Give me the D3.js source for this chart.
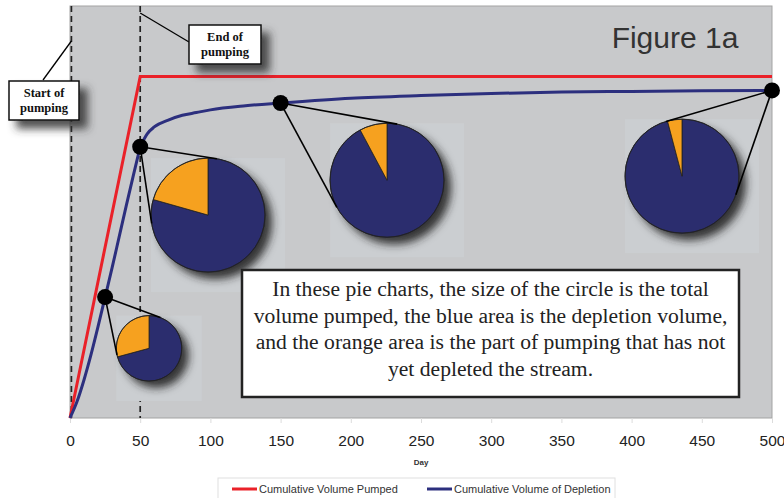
<!DOCTYPE html>
<html>
<head>
<meta charset="utf-8">
<script src="https://cdn.jsdelivr.net/npm/d3@7"></script>
<style>
  html, body { margin: 0; padding: 0; background: #fff; }
  svg { display: block; }
</style>
</head>
<body>
<svg id="chart" width="784" height="498"></svg>
<script>
// ---------------- DATA ----------------
const pumpDays = [0, 50, 500];
const pumpVolume = [0, 50, 50];

const depletionDays = [0, 5, 10, 15, 20, 25, 30, 35, 40, 45, 50, 55, 60, 70, 80, 90, 100, 125, 150, 200, 250, 300, 350, 400, 450, 500];
const depletionVolume = [0, 2.4, 5.6, 9.3, 13.4, 17.7, 22.0, 26.5, 31.0, 35.4, 39.7, 41.6, 42.6, 43.6, 44.3, 44.7, 45.1, 45.7, 46.1, 46.8, 47.2, 47.5, 47.7, 47.8, 47.9, 47.95];

const xTicks = [0, 50, 100, 150, 200, 250, 300, 350, 400, 450, 500];
const pieDays = [25, 50, 150, 500];
// pie centres expressed in chart units [day, volume]
const pieCentreDay = [56.3, 98.3, 225.8, 435.9];
const pieCentreVol = [10.2, 29.7, 34.8, 35.4];

const startDay = 1;
const endDay = 50;
const seriesNames = ["Cumulative Volume Pumped", "Cumulative Volume of Depletion"];
const noteLines = [
  "In these pie charts, the size of the circle is the total",
  "volume pumped, the blue area is the depletion volume,",
  "and the orange area is the part of pumping that has not",
  "yet depleted the stream."
];
const figureTitle = "Figure 1a";
const xTitle = "Day";

// ---------------- LAYOUT ----------------
const plot = { left: 70, top: 6, right: 772, bottom: 418 };
const colors = {
  bg: "#c8c9cb", pieBg: "#cbced1", red: "#ea2129", blue: "#2c2f7e",
  pieBlue: "#2b2d6e", pieOrange: "#f6a11f"
};

const svg = d3.select("#chart");
const x = d3.scaleLinear().domain([0, 500]).range([plot.left, plot.right]);
const y = d3.scaleLinear().domain([0, 60.3]).range([plot.bottom, plot.top]);
const rScale = d3.scalePow().exponent(0.8).domain([0, 50]).range([0, 57]);

const defs = svg.append("defs");
const sh = defs.append("filter").attr("id", "shadow").attr("x", "-30%").attr("y", "-30%").attr("width", "180%").attr("height", "180%");
sh.append("feDropShadow").attr("dx", 7).attr("dy", 7).attr("stdDeviation", 4.5).attr("flood-color", "#222").attr("flood-opacity", 0.9);
const sh2 = defs.append("filter").attr("id", "boxshadow").attr("x", "-30%").attr("y", "-30%").attr("width", "180%").attr("height", "180%");
sh2.append("feDropShadow").attr("dx", 8).attr("dy", 8).attr("stdDeviation", 4).attr("flood-color", "#333").attr("flood-opacity", 0.85);

// plot background
svg.append("rect")
  .attr("x", plot.left).attr("y", plot.top)
  .attr("width", plot.right - plot.left).attr("height", plot.bottom - plot.top)
  .attr("fill", colors.bg).attr("stroke", "#a3a3a3").attr("stroke-width", 1);

// x axis ticks & labels
const axis = d3.axisBottom(x).tickValues(xTicks).tickSize(5).tickPadding(12).tickFormat(d3.format("d"));
const ag = svg.append("g").attr("transform", `translate(0,${plot.bottom})`).call(axis);
ag.select(".domain").remove();
ag.selectAll(".tick line").attr("stroke", "#dcdcdc");
ag.selectAll(".tick text").attr("font-family", "Liberation Sans, Arial, sans-serif").attr("font-size", 15.5).attr("fill", "#222");

svg.append("text").attr("x", (plot.left + plot.right) / 2).attr("y", 465)
  .attr("text-anchor", "middle").attr("font-family", "Liberation Sans, Arial, sans-serif")
  .attr("font-size", 8).attr("font-weight", "bold").attr("fill", "#333").text(xTitle);

// figure title
svg.append("text").attr("x", 675).attr("y", 48).attr("text-anchor", "middle")
  .attr("font-family", "Liberation Sans, Arial, sans-serif").attr("font-size", 30).attr("fill", "#333")
  .text(figureTitle);

// dashed lines
[startDay, endDay].forEach(d => {
  svg.append("line").attr("x1", x(d)).attr("x2", x(d)).attr("y1", plot.top).attr("y2", plot.bottom)
    .attr("stroke", "#222").attr("stroke-width", 1.7).attr("stroke-dasharray", "6,4");
});

const depAt = d => depletionVolume[depletionDays.indexOf(d)];
const pumpAt = d => d3.scaleLinear().domain(pumpDays).range(pumpVolume)(d);
const pieGen = d3.pie().sort(null).value(v => v);

const pieInfo = pieDays.map((d, i) => {
  const total = pumpAt(d);
  const dep = depAt(d);
  return { day: d, total, dep, cx: x(pieCentreDay[i]), cy: y(pieCentreVol[i]), r: rScale(total), mx: x(d), my: y(dep) };
});

pieInfo.forEach(p => {
  svg.append("rect").attr("x", p.cx - p.r).attr("y", p.cy - p.r)
    .attr("width", 2 * p.r + 20).attr("height", 2 * p.r + 20).attr("fill", colors.pieBg);
});

// series lines
const line = d3.line().x(d => x(d[0])).y(d => y(d[1]));
const pumpPts = pumpDays.map((d, i) => [d, pumpVolume[i]]);
svg.append("path").attr("d", line(pumpPts)).attr("fill", "none")
  .attr("stroke", colors.red).attr("stroke-width", 3);

const depPts = depletionDays.map((d, i) => [d, depletionVolume[i]]);
const curved = d3.line().x(d => x(d[0])).y(d => y(d[1])).curve(d3.curveMonotoneX);
svg.append("path").attr("d", curved(depPts.filter(p => p[0] <= endDay))).attr("fill", "none")
  .attr("stroke", colors.blue).attr("stroke-width", 3);
svg.append("path").attr("d", curved(depPts.filter(p => p[0] >= endDay))).attr("fill", "none")
  .attr("stroke", colors.blue).attr("stroke-width", 3);

// pies, leaders, markers
pieInfo.forEach(p => {
  const g = svg.append("g").attr("transform", `translate(${p.cx},${p.cy})`);
  const arc = d3.arc().innerRadius(0).outerRadius(p.r);
  g.append("circle").attr("r", p.r).attr("fill", colors.pieBlue).attr("filter", "url(#shadow)");
  g.selectAll("path").data(pieGen([p.dep, p.total - p.dep])).join("path")
    .attr("d", arc).attr("fill", (d, i) => i === 0 ? colors.pieBlue : colors.pieOrange)
    .attr("stroke", "#222").attr("stroke-width", 0.8);
  g.append("circle").attr("r", p.r).attr("fill", "none").attr("stroke", "#222").attr("stroke-width", 0.8);

  const dx = p.mx - p.cx, dy = p.my - p.cy;
  const dist = Math.hypot(dx, dy);
  const th = Math.atan2(dy, dx);
  const a = Math.acos(Math.min(1, p.r / dist));
  [th + a, th - a].forEach(t => {
    svg.append("line").attr("x1", p.mx).attr("y1", p.my)
      .attr("x2", p.cx + p.r * Math.cos(t)).attr("y2", p.cy + p.r * Math.sin(t))
      .attr("stroke", "#000").attr("stroke-width", 1.6);
  });
  svg.append("circle").attr("cx", p.mx).attr("cy", p.my).attr("r", 8).attr("fill", "#000");
});

// callout boxes
function callout(bx, by, bw, bh, lines, lx1, ly1, lx2, ly2) {
  svg.append("line").attr("x1", lx1).attr("y1", ly1).attr("x2", lx2).attr("y2", ly2)
    .attr("stroke", "#000").attr("stroke-width", 1.3);
  svg.append("rect").attr("x", bx).attr("y", by).attr("width", bw).attr("height", bh)
    .attr("fill", "#fff").attr("stroke", "#111").attr("stroke-width", 1.5).attr("filter", "url(#boxshadow)");
  lines.forEach((t, i) => {
    svg.append("text").attr("x", bx + bw / 2).attr("y", by + 16 + i * 15)
      .attr("text-anchor", "middle").attr("font-family", "Liberation Serif, Times New Roman, serif")
      .attr("font-size", 12.5).attr("font-weight", "bold").attr("fill", "#111").text(t);
  });
}
callout(9, 81, 70, 39, ["Start of", "pumping"], 43, 80, x(startDay), 41);
callout(189, 25, 72, 39, ["End of", "pumping"], x(endDay), 13, 189, 42);

// note box
svg.append("rect").attr("x", 242).attr("y", 270).attr("width", 497).attr("height", 127)
  .attr("fill", "#fff").attr("stroke", "#222").attr("stroke-width", 2.5);
noteLines.forEach((t, i) => {
  svg.append("text").attr("x", 490.5).attr("y", 296 + i * 26.6)
    .attr("text-anchor", "middle").attr("font-family", "Liberation Serif, Times New Roman, serif")
    .attr("font-size", 21.6).attr("fill", "#222").text(t);
});

// legend
svg.append("rect").attr("x", 218).attr("y", 478).attr("width", 397).attr("height", 30)
  .attr("fill", "#fff").attr("stroke", "#e0e0e0");
const legX = [232, 427];
[colors.red, colors.blue].forEach((c, i) => {
  svg.append("line").attr("x1", legX[i]).attr("x2", legX[i] + 25).attr("y1", 489).attr("y2", 489)
    .attr("stroke", c).attr("stroke-width", 3);
  svg.append("text").attr("x", legX[i] + 27).attr("y", 493)
    .attr("font-family", "Liberation Sans, Arial, sans-serif").attr("font-size", 11).attr("fill", "#333")
    .text(seriesNames[i]);
});
</script>
</body>
</html>
